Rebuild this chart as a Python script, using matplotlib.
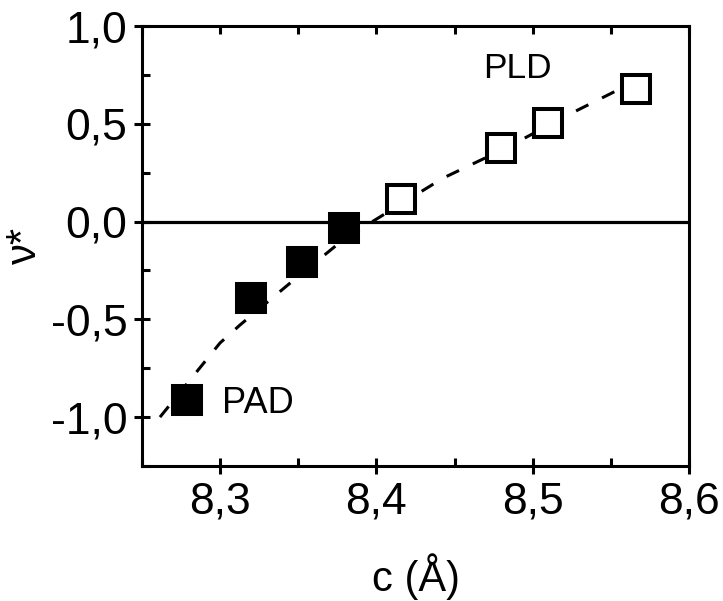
import numpy as np
import matplotlib
matplotlib.use("Agg")
import matplotlib.pyplot as plt

plt.rcParams['font.family'] = ['Liberation Sans', 'DejaVu Sans']

# PAD films (filled) and PLD films (open)
c_pad = [8.279, 8.3195, 8.3526, 8.3794]
v_pad = [-0.913, -0.393, -0.206, -0.032]
c_pld = [8.4157, 8.4797, 8.5096, 8.566]
v_pld = [0.114, 0.374, 0.502, 0.678]

# dashed guide curve
c_fit = [8.2615, 8.2999, 8.3127, 8.3447, 8.3746, 8.3938, 8.4426, 8.4829, 8.5238, 8.5673]
v_fit = [-1.0, -0.621, -0.529, -0.315, -0.120, -0.018, 0.222, 0.376, 0.55, 0.724]

xticks = [8.3, 8.4, 8.5, 8.6]
yticks = [-1.0, -0.5, 0.0, 0.5, 1.0]

fig = plt.figure(figsize=(7.23, 6.01), dpi=100)
ax = fig.add_axes([142/723, 1-466/601, (689-142)/723, (466-26)/601])

ax.axhline(0, color='black', lw=2.3, zorder=1)
ax.plot(c_fit, v_fit, color='black', lw=2.2, dashes=(4.5, 5), zorder=2)
ax.plot(c_pad, v_pad, 's', ms=20, mfc='black', mec='black', mew=2.9, ls='none', zorder=3)
ax.plot(c_pld, v_pld, 's', ms=20, mfc='white', mec='black', mew=2.9, ls='none', zorder=3)

ax.text(8.468, 0.734, 'PLD', fontsize=25.5, va='baseline', ha='left')
ax.text(8.301, -0.98, 'PAD', fontsize=26, va='baseline', ha='left')

ax.set_xlim(8.25, 8.6)
ax.set_ylim(-1.25, 1.0)
ax.set_xticks(xticks)
ax.set_xticks(np.arange(8.25, 8.601, 0.05), minor=True)
ax.set_yticks(yticks)
ax.set_yticks(np.arange(-1.25, 1.001, 0.25), minor=True)
ax.set_xticklabels([f'{t:.1f}'.replace('.', ',') for t in xticks])
ax.set_yticklabels([f'{t:.1f}'.replace('.', ',') for t in yticks])

for s in ax.spines.values():
    s.set_linewidth(2.2)

ax.tick_params(which='major', direction='inout', length=11, width=2.2, labelsize=32, pad=6,
               top=False, right=False)
ax.tick_params(which='minor', direction='in', length=6, width=2.2, top=False, right=False)
ax.tick_params(axis='y', which='major', pad=5)

top = ax.secondary_xaxis('top')
top.set_xticks(np.arange(8.25, 8.601, 0.05))
top.set_xticklabels([])
top.tick_params(direction='in', length=5.5, width=2.2)
top.xaxis.set_minor_locator(matplotlib.ticker.NullLocator())

ax.set_xlabel('c (Å)', fontsize=30, labelpad=22)
ax.set_ylabel('ν*', fontsize=30, labelpad=4)

fig.savefig('out.png', dpi=100)
